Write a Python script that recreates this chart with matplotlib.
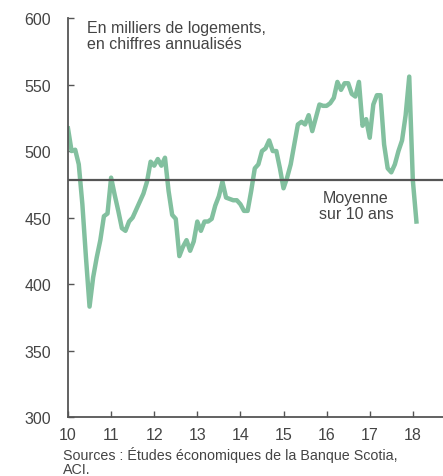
import numpy as np
import matplotlib.pyplot as plt

plt.rcParams['font.family'] = ['Liberation Sans', 'DejaVu Sans']

# Monthly housing starts, thousands of units (annualized), Jan 2010 - Feb 2018
starts_2010 = [517, 500, 501, 490, 460, 420, 383, 405, 420, 433, 451, 453]
starts_2011 = [480, 467, 455, 442, 440, 447, 450, 456, 462, 468, 477, 492]
starts_2012 = [489, 494, 489, 495, 470, 452, 449, 421, 428, 433, 425, 432]
starts_2013 = [447, 440, 447, 447, 449, 459, 466, 477, 465, 464, 463, 463]
starts_2014 = [460, 455, 455, 470, 487, 490, 500, 502, 508, 500, 500, 487]
starts_2015 = [472, 480, 490, 505, 520, 522, 520, 527, 515, 525, 535, 534]
starts_2016 = [534, 536, 540, 552, 546, 551, 551, 543, 541, 552, 519, 524]
starts_2017 = [510, 535, 542, 542, 505, 487, 484, 490, 500, 508, 527, 556]
starts_2018 = [478, 447]
ten_year_avg = 478

year_ticks = [10, 11, 12, 13, 14, 15, 16, 17, 18]
y_ticks = [300, 350, 400, 450, 500, 550, 600]

values = (starts_2010 + starts_2011 + starts_2012 + starts_2013 + starts_2014
          + starts_2015 + starts_2016 + starts_2017 + starts_2018)
months = 10 + np.arange(len(values)) / 12

txt_color = '#444444'

fig = plt.figure(figsize=(4.43, 4.77), dpi=100)
ax = fig.add_axes([0.1535, 0.1237, 0.8465, 0.8363])

ax.plot(months, values, color='#82c09f', linewidth=3.2, solid_joinstyle='round', zorder=2)
ax.axhline(ten_year_avg, color='#555555', linewidth=1.6, zorder=3)

ax.set_xlim(10, 18.7)
ax.set_ylim(300, 600)
ax.set_xticks(year_ticks)
ax.set_yticks(y_ticks)

for side in ['top', 'right']:
    ax.spines[side].set_visible(False)
for side in ['left', 'bottom']:
    ax.spines[side].set_color('#555555')
    ax.spines[side].set_linewidth(1.3)

ax.tick_params(axis='both', direction='in', length=4, width=1, color='#555555',
               labelsize=11.5, labelcolor=txt_color)
ax.tick_params(axis='y', pad=12)
ax.tick_params(axis='x', pad=7)

ax.text(0.05, 0.995, 'En milliers de logements,\nen chiffres annualisés',
        transform=ax.transAxes, ha='left', va='top', fontsize=11.5,
        color=txt_color, linespacing=1.1)
ax.text(16.68, 471, 'Moyenne\nsur 10 ans', ha='center', va='top',
        fontsize=11.5, color=txt_color, linespacing=1.1)

fig.text(63 / 443, 1 - 447 / 477, 'Sources : Études économiques de la Banque Scotia,\nACI.',
         ha='left', va='top', fontsize=10.3, color=txt_color, linespacing=1.0)

fig.savefig('out.png', dpi=100)
